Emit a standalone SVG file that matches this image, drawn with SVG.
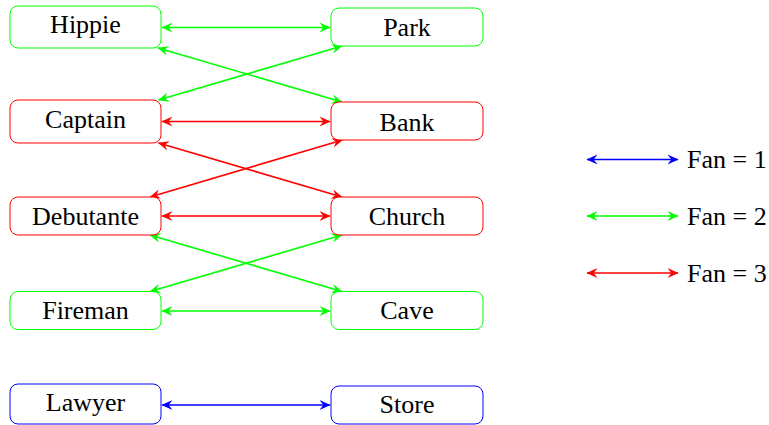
<svg xmlns="http://www.w3.org/2000/svg" width="769" height="425" viewBox="0 0 769 425">
<style>
text{font-family:"Liberation Serif","Times New Roman",serif;font-size:26px;fill:#000}
.n text{text-anchor:middle}
rect{fill:#fff;stroke-width:1}
.g rect{stroke:#00ff00}.r rect{stroke:#ff0000}.b rect{stroke:#0000ff}
#edges line,#legend line{stroke-width:1.6;fill:none}
.eg{stroke:#00ff00;marker-start:url(#ag);marker-end:url(#ag)}
.er{stroke:#ff0000;marker-start:url(#ar);marker-end:url(#ar)}
.eb{stroke:#0000ff;marker-start:url(#ab);marker-end:url(#ab)}
</style>
<defs>
<marker id="ag" viewBox="0 0 10 10" refX="9.5" refY="5" markerWidth="11" markerHeight="11" markerUnits="userSpaceOnUse" orient="auto-start-reverse"><path d="M0,0.6 L10,5 L0,9.4 L3.5,5 Z" fill="#00ff00"/></marker>
<marker id="ar" viewBox="0 0 10 10" refX="9.5" refY="5" markerWidth="11" markerHeight="11" markerUnits="userSpaceOnUse" orient="auto-start-reverse"><path d="M0,0.6 L10,5 L0,9.4 L3.5,5 Z" fill="#ff0000"/></marker>
<marker id="ab" viewBox="0 0 10 10" refX="9.5" refY="5" markerWidth="11" markerHeight="11" markerUnits="userSpaceOnUse" orient="auto-start-reverse"><path d="M0,0.6 L10,5 L0,9.4 L3.5,5 Z" fill="#0000ff"/></marker>
</defs>
<g id="edges">
<line class="eg" x1="162" y1="27.5" x2="330" y2="27.5"/>
<line class="eg" x1="158" y1="48" x2="342" y2="102"/>
<line class="eg" x1="342" y1="46" x2="158.5" y2="100"/>
<line class="er" x1="162" y1="121.5" x2="330" y2="121.5"/>
<line class="er" x1="158.5" y1="143" x2="342" y2="197"/>
<line class="er" x1="342.5" y1="140" x2="150" y2="197"/>
<line class="er" x1="162" y1="216" x2="330" y2="216"/>
<line class="eg" x1="150" y1="235" x2="342" y2="291.5"/>
<line class="eg" x1="342" y1="235" x2="150" y2="291.5"/>
<line class="eg" x1="162" y1="311" x2="330" y2="311"/>
<line class="eb" x1="162" y1="405" x2="330" y2="405"/>
</g>
<g id="Hippie" class="n g"><rect x="10" y="6" width="151" height="42" rx="8"/><text x="85.5" y="33">Hippie</text></g>
<g id="Park" class="n g"><rect x="331" y="8" width="152" height="38" rx="8"/><text x="407" y="36">Park</text></g>
<g id="Captain" class="n r"><rect x="10" y="100" width="151" height="43" rx="8"/><text x="85.5" y="128">Captain</text></g>
<g id="Bank" class="n r"><rect x="331" y="102" width="152" height="38" rx="8"/><text x="407" y="131">Bank</text></g>
<g id="Debutante" class="n r"><rect x="10" y="197" width="151" height="38" rx="8"/><text x="85.5" y="225">Debutante</text></g>
<g id="Church" class="n r"><rect x="331" y="197" width="152" height="38" rx="8"/><text x="407" y="225">Church</text></g>
<g id="Fireman" class="n g"><rect x="10" y="291.5" width="151" height="38" rx="8"/><text x="85.5" y="319">Fireman</text></g>
<g id="Cave" class="n g"><rect x="331" y="291.5" width="152" height="38" rx="8"/><text x="407" y="319">Cave</text></g>
<g id="Lawyer" class="n b"><rect x="10" y="384" width="151" height="40" rx="8"/><text x="85.5" y="411">Lawyer</text></g>
<g id="Store" class="n b"><rect x="331" y="386" width="152" height="38" rx="8"/><text x="407" y="413">Store</text></g>
<g id="legend">
<line class="eb" x1="587" y1="159.5" x2="678" y2="159.5"/>
<text x="687" y="168">Fan = 1</text>
<line class="eg" x1="587" y1="216" x2="678" y2="216"/>
<text x="687" y="225">Fan = 2</text>
<line class="er" x1="587" y1="273" x2="678" y2="273"/>
<text x="687" y="282">Fan = 3</text>
</g>
</svg>
